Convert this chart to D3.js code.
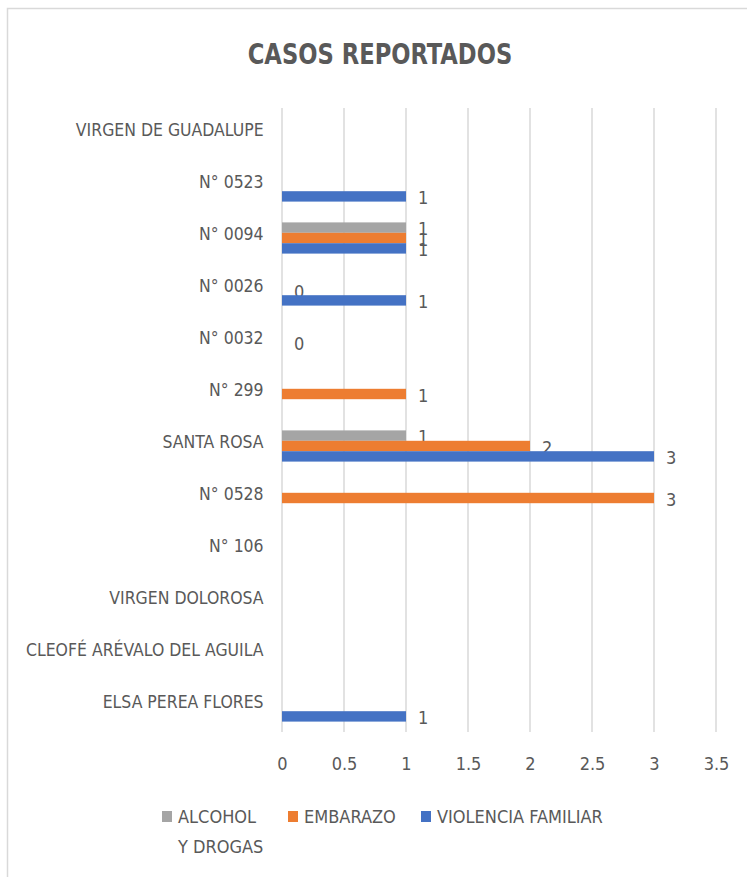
<!DOCTYPE html>
<html><head><meta charset="utf-8">
<script src="https://cdn.jsdelivr.net/npm/d3@7"></script>
<style>
html,body{margin:0;padding:0;background:#fff;}
svg{display:block;}
text{font-family:"Liberation Sans Narrow","DejaVu Sans Condensed",sans-serif;fill:#595959;}
</style></head>
<body>
<script>
const categories = ["VIRGEN DE GUADALUPE","N° 0523","N° 0094","N° 0026","N° 0032","N° 299","SANTA ROSA","N° 0528","N° 106","VIRGEN DOLOROSA","CLEOFÉ ARÉVALO DEL AGUILA","ELSA PEREA FLORES"];
const seriesNames = ["ALCOHOL Y DROGAS","EMBARAZO","VIOLENCIA FAMILIAR"];
const alcohol   = [null,null,1,null,null,null,1,null,null,null,null,null];
const embarazo  = [null,null,1,0,0,1,2,3,null,null,null,null];
const violencia = [null,1,1,1,null,null,3,null,null,null,null,1];
const xTicks = [0,0.5,1,1.5,2,2.5,3,3.5];
const colors = ["#A5A5A5","#ED7D31","#4472C4"];
const title = "CASOS REPORTADOS";

const W = 747, H = 877;
const FONT = '"Liberation Sans Narrow","DejaVu Sans Condensed",sans-serif';
const svg = d3.select("body").append("svg").attr("width", W).attr("height", H);

// chart border
svg.append("rect").attr("x",7.5).attr("y",8.5).attr("width",W+20).attr("height",H+20)
  .attr("fill","none").attr("stroke","#D9D9D9").attr("stroke-width",1.5);

const x = d3.scaleLinear().domain([0,3.5]).range([282,716]);
const y = d3.scaleBand().domain(categories).range([108,732]).paddingInner(0.4).paddingOuter(0.2);
const sub = d3.scaleBand().domain(seriesNames).range([0,y.bandwidth()]);

// title
svg.append("text").attr("transform","translate(380,64) scale(0.9,1)").attr("text-anchor","middle")
  .style("font-size","28px").style("font-weight","bold").text(title);

// gridlines
svg.append("g").selectAll("line").data(xTicks).join("line")
  .attr("x1",d=>x(d)).attr("x2",d=>x(d)).attr("y1",108).attr("y2",732)
  .attr("stroke","#D9D9D9").attr("stroke-width",1.5);

// x axis labels
const xAxis = d3.axisBottom(x).tickValues(xTicks).tickSize(0).tickPadding(0).tickFormat(d3.format("~g"));
const gx = svg.append("g").attr("transform","translate(0,757)").call(xAxis);
gx.select(".domain").remove();
gx.selectAll("text").style("font-size","18px").attr("fill","#595959").attr("dy","0.7em")
  .style("font-family",FONT);

// y axis labels
const yAxis = d3.axisLeft(y).tickSize(0).tickPadding(19);
const gy = svg.append("g").attr("transform","translate(282,0)").call(yAxis);
gy.select(".domain").remove();
gy.selectAll("text").style("font-size","18px").attr("fill","#595959").attr("dy","0.1em")
  .attr("transform","scale(0.97,1)")
  .style("font-family",FONT);

// bars
const seriesData = [alcohol, embarazo, violencia];
seriesData.forEach((vals, si) => {
  const name = seriesNames[si];
  const pts = categories.map((c,i)=>({c, v: vals[i]})).filter(d=>d.v!==null);
  svg.append("g").selectAll("rect").data(pts).join("rect")
    .attr("x", x(0))
    .attr("y", d=>y(d.c)+sub(name))
    .attr("width", d=>x(d.v)-x(0))
    .attr("height", sub.bandwidth())
    .attr("fill", colors[si]);
  svg.append("g").selectAll("text").data(pts).join("text")
    .attr("x", d=>x(d.v)+12)
    .attr("y", d=>y(d.c)+sub(name)+sub.bandwidth()/2+1.5)
    .attr("dy","0.35em")
    .style("font-size","18px")
    .text(d=>d.v);
});

// legend
const legendItems = [
  {lines:["ALCOHOL","Y DROGAS"], x:162},
  {lines:["EMBARAZO"], x:288},
  {lines:["VIOLENCIA FAMILIAR"], x:421}
];
const lg = svg.append("g");
legendItems.forEach((it,i)=>{
  lg.append("rect").attr("x",it.x).attr("y",811).attr("width",10).attr("height",11).attr("fill",colors[i]);
  it.lines.forEach((ln,j)=>{
    lg.append("text").attr("x",it.x+16).attr("y",823+j*30).style("font-size","18px").text(ln);
  });
});
</script>
</body></html>
